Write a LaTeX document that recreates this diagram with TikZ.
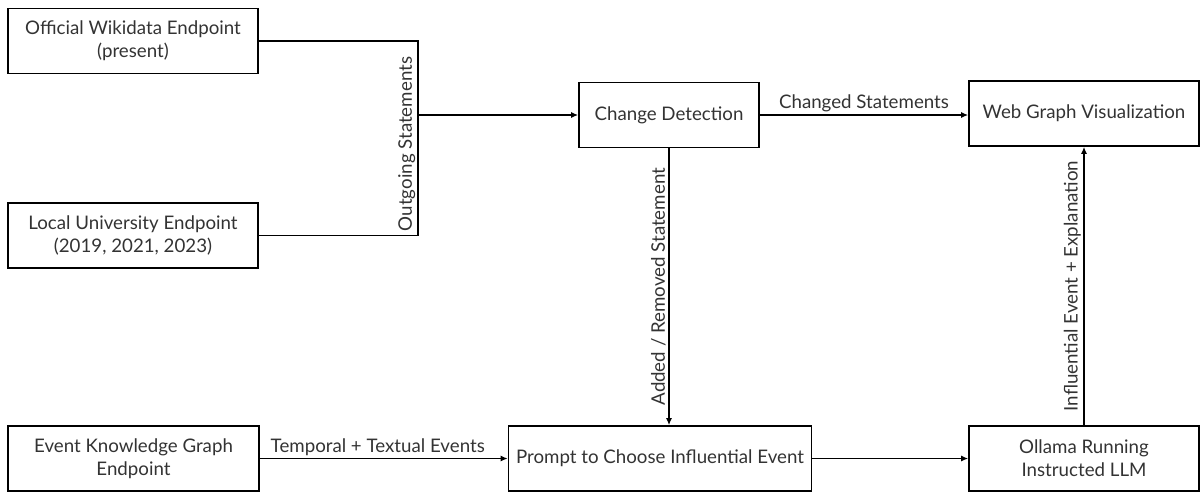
\documentclass[tikz,border=0pt]{standalone}
\usepackage{fontspec}
\setmainfont{Lato}
\usetikzlibrary{arrows.meta}
\begin{document}
\begin{tikzpicture}[x=1pt,y=-1pt,
  box/.style={draw=black, line width=1.6pt, minimum width=#1, minimum height=65pt, align=center, inner sep=0pt,
    font=\fontsize{18.7}{23}\selectfont, text=black!80},
  conn/.style={line width=1.4pt},
  arr/.style={conn, -{Latex[length=7pt,width=6pt]}},
  lbl/.style={font=\fontsize{18.7}{23}\selectfont, text=black!80, inner sep=2.5pt}]
\useasboundingbox (0,0) rectangle (1201,493);
\node[box=250pt] (off) at (133,41) {Official Wikidata Endpoint\\(present)};
\node[box=250pt] (loc) at (133,235.5) {Local University Endpoint\\(2019, 2021, 2023)};
\node[box=251pt] (evt) at (133.5,458.5) {Event Knowledge Graph\\Endpoint};
\node[box=180pt] (cd) at (669,115) {Change Detection};
\node[box=230pt] (web) at (1084,113.5) {Web Graph Visualization};
\node[box=303pt] (pr) at (660,458.5) {Prompt to Choose Influential Event};
\node[box=230pt] (oll) at (1084,458.5) {Ollama Running\\Instructed LLM};
\coordinate (jt) at (418,41);
\coordinate (jb) at (418,235.5);
\coordinate (jm) at (418,115);
\draw[conn] (off.east) -- (jt) -- (jb) -- (loc.east);
\node[lbl, rotate=90, anchor=south] (ols) at (418,144) {Outgoing Statements};
\draw[arr] (jm) -- (cd.west);
\draw[arr] (cd.east) -- node[lbl, above] (chs) {Changed Statements} (cd.east -| web.west);
\draw[arr] (cd.south) -- node[lbl, rotate=90, anchor=south] (ars) {Added / Removed Statement} (cd.south |- pr.north);
\draw[arr] (evt.east) -- node[lbl, above, xshift=-6pt] (tte) {Temporal + Textual Events} (pr.west);
\draw[arr] (pr.east) -- (pr.east -| oll.west);
\draw[arr] (oll.north) -- node[lbl, rotate=90, anchor=south] (iee) {Influential Event + Explanation} (oll.north |- web.south);
\end{tikzpicture}
\end{document}
